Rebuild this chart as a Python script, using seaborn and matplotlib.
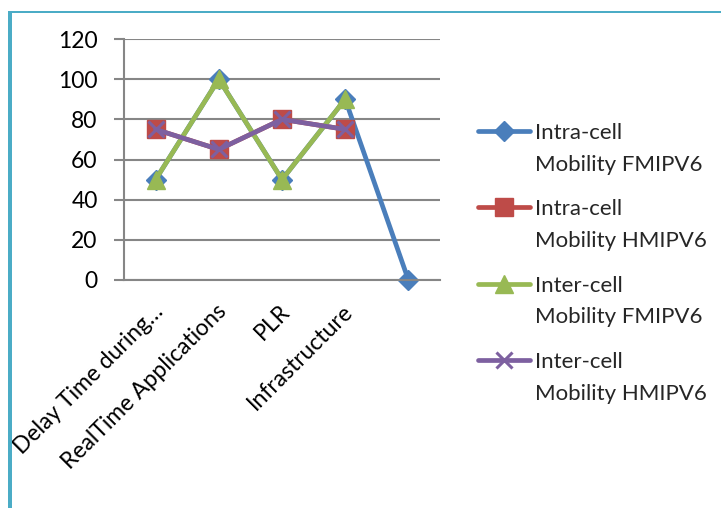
import matplotlib
matplotlib.use("Agg")
import matplotlib.pyplot as plt
import seaborn as sns
import pandas as pd
import numpy as np
from matplotlib.patches import Rectangle
from matplotlib.lines import Line2D
from matplotlib.legend_handler import HandlerLine2D
from matplotlib.transforms import ScaledTranslation

# ---- data -------------------------------------------------------------
categories = ["Delay Time during\u2026", "RealTime Applications", "PLR",
              "Infrastructure", ""]
series_names = ["Intra-cell\nMobility FMIPV6", "Intra-cell\nMobility HMIPV6",
                "Inter-cell\nMobility FMIPV6", "Inter-cell\nMobility HMIPV6"]
intra_fmipv6 = [50, 100, 50, 90, 0]
intra_hmipv6 = [75, 65, 80, 75, np.nan]
inter_fmipv6 = [50, 100, 50, 90, np.nan]
inter_hmipv6 = [75, 65, 80, 75, np.nan]
y_ticks = [0, 20, 40, 60, 80, 100, 120]

series_values = [intra_fmipv6, intra_hmipv6, inter_fmipv6, inter_hmipv6]
colors = ["#4A7EBB", "#BE4B48", "#98B954", "#7D60A0"]
markers = ["D", "s", "^", "x"]
marker_sizes = [10, 13, 13, 12]

# ---- style ------------------------------------------------------------
sns.set_style("white")
plt.rcParams["font.family"] = ["Lato", "DejaVu Sans"]
grid_color = "#868686"

W, H = 721, 508
fig = plt.figure(figsize=(W / 100, H / 100), dpi=100)
ax = fig.add_axes([124 / W, (H - 280) / H, (440 - 124) / W, (280 - 39) / H])

positions = np.arange(len(categories))
frames = []
for name, vals in zip(series_names, series_values):
    frames.append(pd.DataFrame({"pos": positions, "value": vals, "series": name}))
df = pd.concat(frames, ignore_index=True).dropna()

for name, col, mk, ms in zip(series_names, colors, markers, marker_sizes):
    sub = df[df["series"] == name]
    sns.lineplot(data=sub, x="pos", y="value", ax=ax, color=col, lw=3.4,
                 marker=mk, markersize=ms, markeredgecolor=col,
                 markeredgewidth=2.2 if mk == "x" else 1,
                 label=name, legend=False, sort=False, clip_on=False)

ax.set_xlim(-0.5, len(categories) - 0.5)
ax.set_ylim(0, 120)
ax.set_yticks(y_ticks)
ax.set_yticklabels([str(v) for v in y_ticks])
ax.set_xlabel("")
ax.set_ylabel("")

# category labels at centres, tick marks between categories
ax.set_xticks(positions)
ax.set_xticklabels(categories, rotation=45, ha="right", va="top",
                   rotation_mode="anchor")
ax.set_xticks(np.arange(-0.5, len(categories)), minor=True)
ax.tick_params(axis="x", which="major", length=0, pad=15, labelsize=16.5,
               labelcolor="#000000")
ax.tick_params(axis="x", which="minor", length=6, width=1.5, color=grid_color,
               direction="out")
ax.tick_params(axis="y", length=7, width=1.5, color=grid_color, pad=12,
               labelsize=16.5, labelcolor="#000000", left=True)
for lab in ax.get_xticklabels():
    lab.set_transform(lab.get_transform() +
                      ScaledTranslation(-0.03, 0, fig.dpi_scale_trans))

ax.grid(axis="y", color=grid_color, lw=1.5)
ax.set_axisbelow(True)
for side in ["top", "right"]:
    ax.spines[side].set_visible(False)
for side in ["left", "bottom"]:
    ax.spines[side].set_color(grid_color)
    ax.spines[side].set_linewidth(1.5)


# ---- legend -----------------------------------------------------------
class FirstLineHandler(HandlerLine2D):
    """Line handle raised so it sits level with the first label line."""

    def __init__(self, raise_pts, **kw):
        super().__init__(**kw)
        self.raise_pts = raise_pts

    def create_artists(self, legend, orig_handle, xdescent, ydescent,
                       width, height, fontsize, trans):
        artists = super().create_artists(legend, orig_handle, xdescent,
                                         ydescent, width, height, fontsize,
                                         trans)
        for a in artists:
            a.set_ydata(np.asarray(a.get_ydata(), dtype=float) + self.raise_pts)
        return artists


handles = ax.get_lines()[:4]
leg = fig.legend(handles, series_names, loc="upper left",
                 bbox_to_anchor=(478 / W, (H - 123) / H),
                 frameon=False, fontsize=16, handlelength=2.35,
                 handletextpad=0.22, borderpad=0, borderaxespad=0,
                 labelspacing=1.12,
                 handler_map={Line2D: FirstLineHandler(13.0, numpoints=1)})
for t in leg.get_texts():
    t.set_linespacing(1.72)

# ---- frame around the figure -------------------------------------------
frame_color = "#4BACC6"
fig.add_artist(Rectangle((8 / W, 0), 4 / W, (H - 11) / H,
                         transform=fig.transFigure, color=frame_color, lw=0))
fig.add_artist(Rectangle((8 / W, (H - 13) / H), (W - 8) / W, 2.5 / H,
                         transform=fig.transFigure, color=frame_color, lw=0))

fig.savefig("out.png", dpi=100)
